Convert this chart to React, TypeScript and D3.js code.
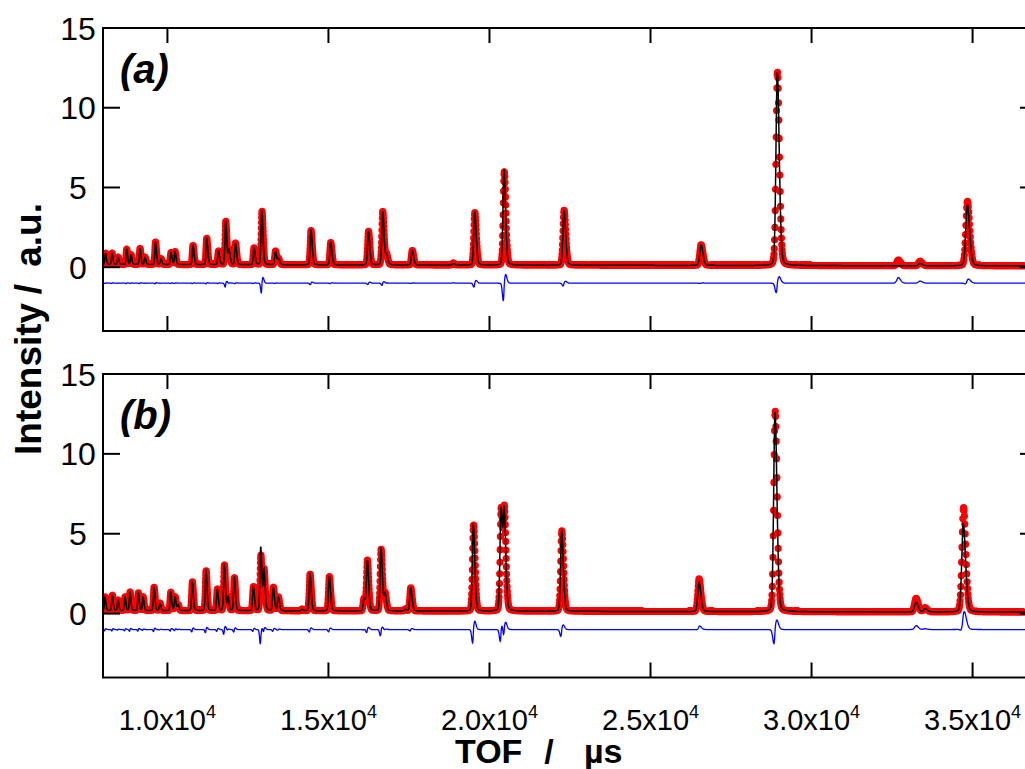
import React, { useMemo } from "react";
import * as d3 from "d3";

// ---------- axes / ticks ----------
const X_DOMAIN: [number, number] = [8000, 37000];
const Y_DOMAIN: [number, number] = [-4, 15];
const xTickValues = [10000, 15000, 20000, 25000, 30000, 35000];
const xTickMantissa = ["1.0", "1.5", "2.0", "2.5", "3.0", "3.5"];
const xTickExponent = "4";
const yTickValues = [0, 5, 10, 15];
const yTickLabels = ["0", "5", "10", "15"];
const panelLabels = ["(a)", "(b)"];

// ---------- background (TOF knots, intensity) ----------
const bgTof = [8000, 20000, 37000];
const bgA = [0.17, 0.13, 0.08];
const bgB = [0.19, 0.15, 0.09];

// ---------- panel (a) reflections ----------
const peakTofA = [8078, 8280, 8466, 8736, 8869, 9149, 9304, 9630, 9801, 10111, 10236, 10794, 11220, 11586, 11810, 11912, 12114, 12688, 12931, 13356, 13449, 14458, 15070, 16243, 16684, 16802, 17603, 18876, 19541, 20451, 22314, 26568, 28936, 32694, 33367, 34836];
const peakObsA = [0.7, 0.7, 0.45, 0.95, 0.6, 1.0, 0.45, 1.4, 0.35, 0.75, 0.8, 1.2, 1.65, 0.85, 2.7, 0.9, 1.35, 1.05, 3.35, 0.85, 0.35, 2.15, 1.4, 2.1, 3.35, 0.6, 0.9, 0.12, 3.3, 5.85, 3.45, 1.3, 12.15, 0.35, 0.28, 4.05];
const peakCalcA = [0.7, 0.7, 0.45, 0.95, 0.6, 1.0, 0.45, 1.4, 0.35, 0.75, 0.8, 1.2, 1.65, 0.85, 2.75, 0.9, 1.35, 1.05, 3.4, 0.85, 0.35, 2.15, 1.4, 2.1, 3.35, 0.6, 0.9, 0.1, 3.3, 6.05, 3.45, 1.3, 12.15, 0.0, 0.15, 3.85];
const peakShiftA = [1, 1, 1, 1, 1, 1, 1, 1, 1, 1, 1, 1, 1, 1, 3, 1, 1, 1, 7, 1, 1, 2, 1, 2, 2, 1, 1, 0, 4, 9, 3, 1, 3.5, 0, 0, 3];

// ---------- panel (b) reflections ----------
const peakTofB = [8062, 8289, 8466, 8683, 8838, 9096, 9242, 9584, 9770, 10102, 10236, 10329, 10773, 11198, 11549, 11766, 11881, 12077, 12667, 12897, 12999, 13288, 13443, 14179, 14427, 15026, 16104, 16207, 16632, 16756, 17377, 17554, 19498, 20358, 20460, 22242, 26505, 28865, 33243, 33523, 34712];
const peakObsB = [0.85, 0.95, 0.65, 0.85, 1.15, 1.1, 0.85, 1.45, 0.45, 1.15, 0.85, 0.35, 1.8, 2.5, 1.35, 2.85, 0.85, 2.05, 1.5, 3.45, 2.5, 1.45, 0.85, 0.1, 2.3, 2.15, 0.75, 3.15, 3.85, 1.05, 0.1, 1.45, 5.4, 6.35, 5.8, 5.05, 2.05, 12.55, 0.85, 0.25, 6.55];
const peakCalcB = [0.85, 0.95, 0.65, 0.85, 1.15, 1.1, 0.85, 1.45, 0.45, 1.15, 0.85, 0.35, 1.8, 2.5, 1.35, 2.85, 0.85, 2.05, 1.5, 3.95, 2.5, 1.45, 0.85, 0.1, 2.3, 2.15, 0.75, 3.15, 3.95, 1.05, 0.1, 1.45, 5.45, 6.4, 5.8, 5.05, 1.85, 12.55, 0.6, 0.2, 5.55];
const peakShiftB = [3, 3, 2, 3, 3, 3, 2, 3, 2, 3, 3, 2, 3, 3, 3, 4, 2, 3, 3, 6, 3, 3, 2, 0, 3, 3, 2, 3, 4, 2, 0, 3, 8, 6, 6, 5, 3, 5, 1, 0, 6];

const DIFF_OFFSET = -1;
const BIN_STEP = 0.00035; // TOF bin width, dt/t

const FONT = "'Liberation Sans', Arimo, Arial, sans-serif";

function peakShape(t: number, t0: number, h: number) {
  const s = 12 + 0.0013 * t0;
  const d = t - t0;
  if (Math.abs(d) > 40 * s) return 0;
  const w = d < 0 ? 0.85 * s : 1.25 * s;
  const u = d / w;
  return h * (0.8 * Math.exp(-0.5 * u * u) + 0.2 / (1 + u * u));
}

type Pattern = { t: number; obs: number; calc: number; diff: number }[];

function buildPattern(pos: number[], hObs: number[], hCalc: number[], shift: number[], bg: number[]): Pattern {
  const bgScale = d3.scaleLinear().domain(bgTof).range(bg);
  const n = Math.ceil(Math.log(X_DOMAIN[1] / X_DOMAIN[0]) / BIN_STEP);
  const tofBins = d3.range(n + 1).map((i) => X_DOMAIN[0] * Math.exp(i * BIN_STEP));
  return tofBins.map((t) => {
    let calc = bgScale(t);
    let obs = bgScale(t);
    for (let k = 0; k < pos.length; k++) {
      calc += peakShape(t, pos[k], hCalc[k]);
      obs += peakShape(t, pos[k] + shift[k], hObs[k]);
    }
    return { t, obs, calc, diff: obs - calc + DIFF_OFFSET };
  });
}

const X_RANGE: [number, number] = [103, 1037];

function Panel({ id, top, bottom, data, label, showXLabels }: { id: string; top: number; bottom: number; data: Pattern; label: string; showXLabels: boolean }) {
  const x = d3.scaleLinear().domain(X_DOMAIN).range(X_RANGE);
  const y = d3.scaleLinear().domain(Y_DOMAIN).range([bottom, top]);
  const r = 3.6;
  const obsPath = useMemo(() => {
    let s = "";
    for (const d of data) {
      const cx = x(d.t);
      const cy = y(d.obs);
      s += `M${(cx - r).toFixed(2)},${cy.toFixed(2)}a${r},${r} 0 1,0 ${2 * r},0a${r},${r} 0 1,0 ${-2 * r},0`;
    }
    return s;
  }, [data]);
  const calcLine = d3.line<{ t: number; calc: number }>().x((d) => x(d.t)).y((d) => y(d.calc))(data) || "";
  const diffLine = d3.line<{ t: number; diff: number }>().x((d) => x(d.t)).y((d) => y(d.diff))(data) || "";
  const [x0, x1] = X_RANGE;
  return (
    <g>
      <defs>
        <clipPath id={id}>
          <rect x={x0} y={top} width={x1 - x0} height={bottom - top} />
        </clipPath>
      </defs>
      <g clipPath={`url(#${id})`}>
        <path d={obsPath} fill="#ff0000" />
        <path d={calcLine} fill="none" stroke="#000" strokeWidth={1.5} />
        <path d={diffLine} fill="none" stroke="#0000ff" strokeWidth={1.3} />
      </g>
      <rect x={x0} y={top} width={x1 - x0} height={bottom - top} fill="none" stroke="#000" strokeWidth={2} />
      {yTickValues.map((v, i) => (
        <g key={"y" + v}>
          <line x1={x0} x2={x0 + 17} y1={y(v)} y2={y(v)} stroke="#000" strokeWidth={2} />
          <line x1={x1} x2={x1 - 17} y1={y(v)} y2={y(v)} stroke="#000" strokeWidth={2} />
          <text x={78} y={y(v)} dy="0.36em" textAnchor="middle" fontFamily={FONT} fontSize={32} fill="#000">
            {yTickLabels[i]}
          </text>
        </g>
      ))}
      {xTickValues.map((v, i) => (
        <g key={"x" + v}>
          <line x1={x(v)} x2={x(v)} y1={top} y2={top + 15} stroke="#000" strokeWidth={2} />
          <line x1={x(v)} x2={x(v)} y1={bottom} y2={bottom - 15} stroke="#000" strokeWidth={2} />
          {showXLabels && (
            <text x={x(v)} y={bottom + 52} textAnchor="middle" fontFamily={FONT} fontSize={29} fill="#000">
              <tspan>{xTickMantissa[i] + "x10"}</tspan>
              <tspan dy={-12} fontSize={18}>{xTickExponent}</tspan>
            </text>
          )}
        </g>
      ))}
      <text x={120} y={top + 55} fontFamily={FONT} fontSize={40} fontWeight="bold" fontStyle="italic" fill="#000">
        {label}
      </text>
    </g>
  );
}

export default function App() {
  const dataA = useMemo(() => buildPattern(peakTofA, peakObsA, peakCalcA, peakShiftA, bgA), []);
  const dataB = useMemo(() => buildPattern(peakTofB, peakObsB, peakCalcB, peakShiftB, bgB), []);
  return (
    <svg width={1025} height={769} style={{ position: "absolute", left: 0, top: 0, background: "#fff" }}>
      <rect x={0} y={0} width={1025} height={769} fill="#fff" />
      <Panel id="clipA" top={28} bottom={331} data={dataA} label={panelLabels[0]} showXLabels={false} />
      <Panel id="clipB" top={374} bottom={677.5} data={dataB} label={panelLabels[1]} showXLabels={true} />
      <g fontFamily={FONT} fontWeight="bold" fontSize={37} fill="#000">
        <text transform="translate(41,455) rotate(-90)" textAnchor="start">Intensity</text>
        <text transform="translate(41,289) rotate(-90)" textAnchor="middle">/</text>
        <text transform="translate(41,203) rotate(-90)" textAnchor="end">a.u.</text>
      </g>
      <g fontFamily={FONT} fontWeight="bold" fontSize={34} fill="#000">
        <text x={455} y={763}>TOF</text>
        <text x={549} y={763} textAnchor="middle">/</text>
        <text x={584} y={763}>µs</text>
      </g>
    </svg>
  );
}
